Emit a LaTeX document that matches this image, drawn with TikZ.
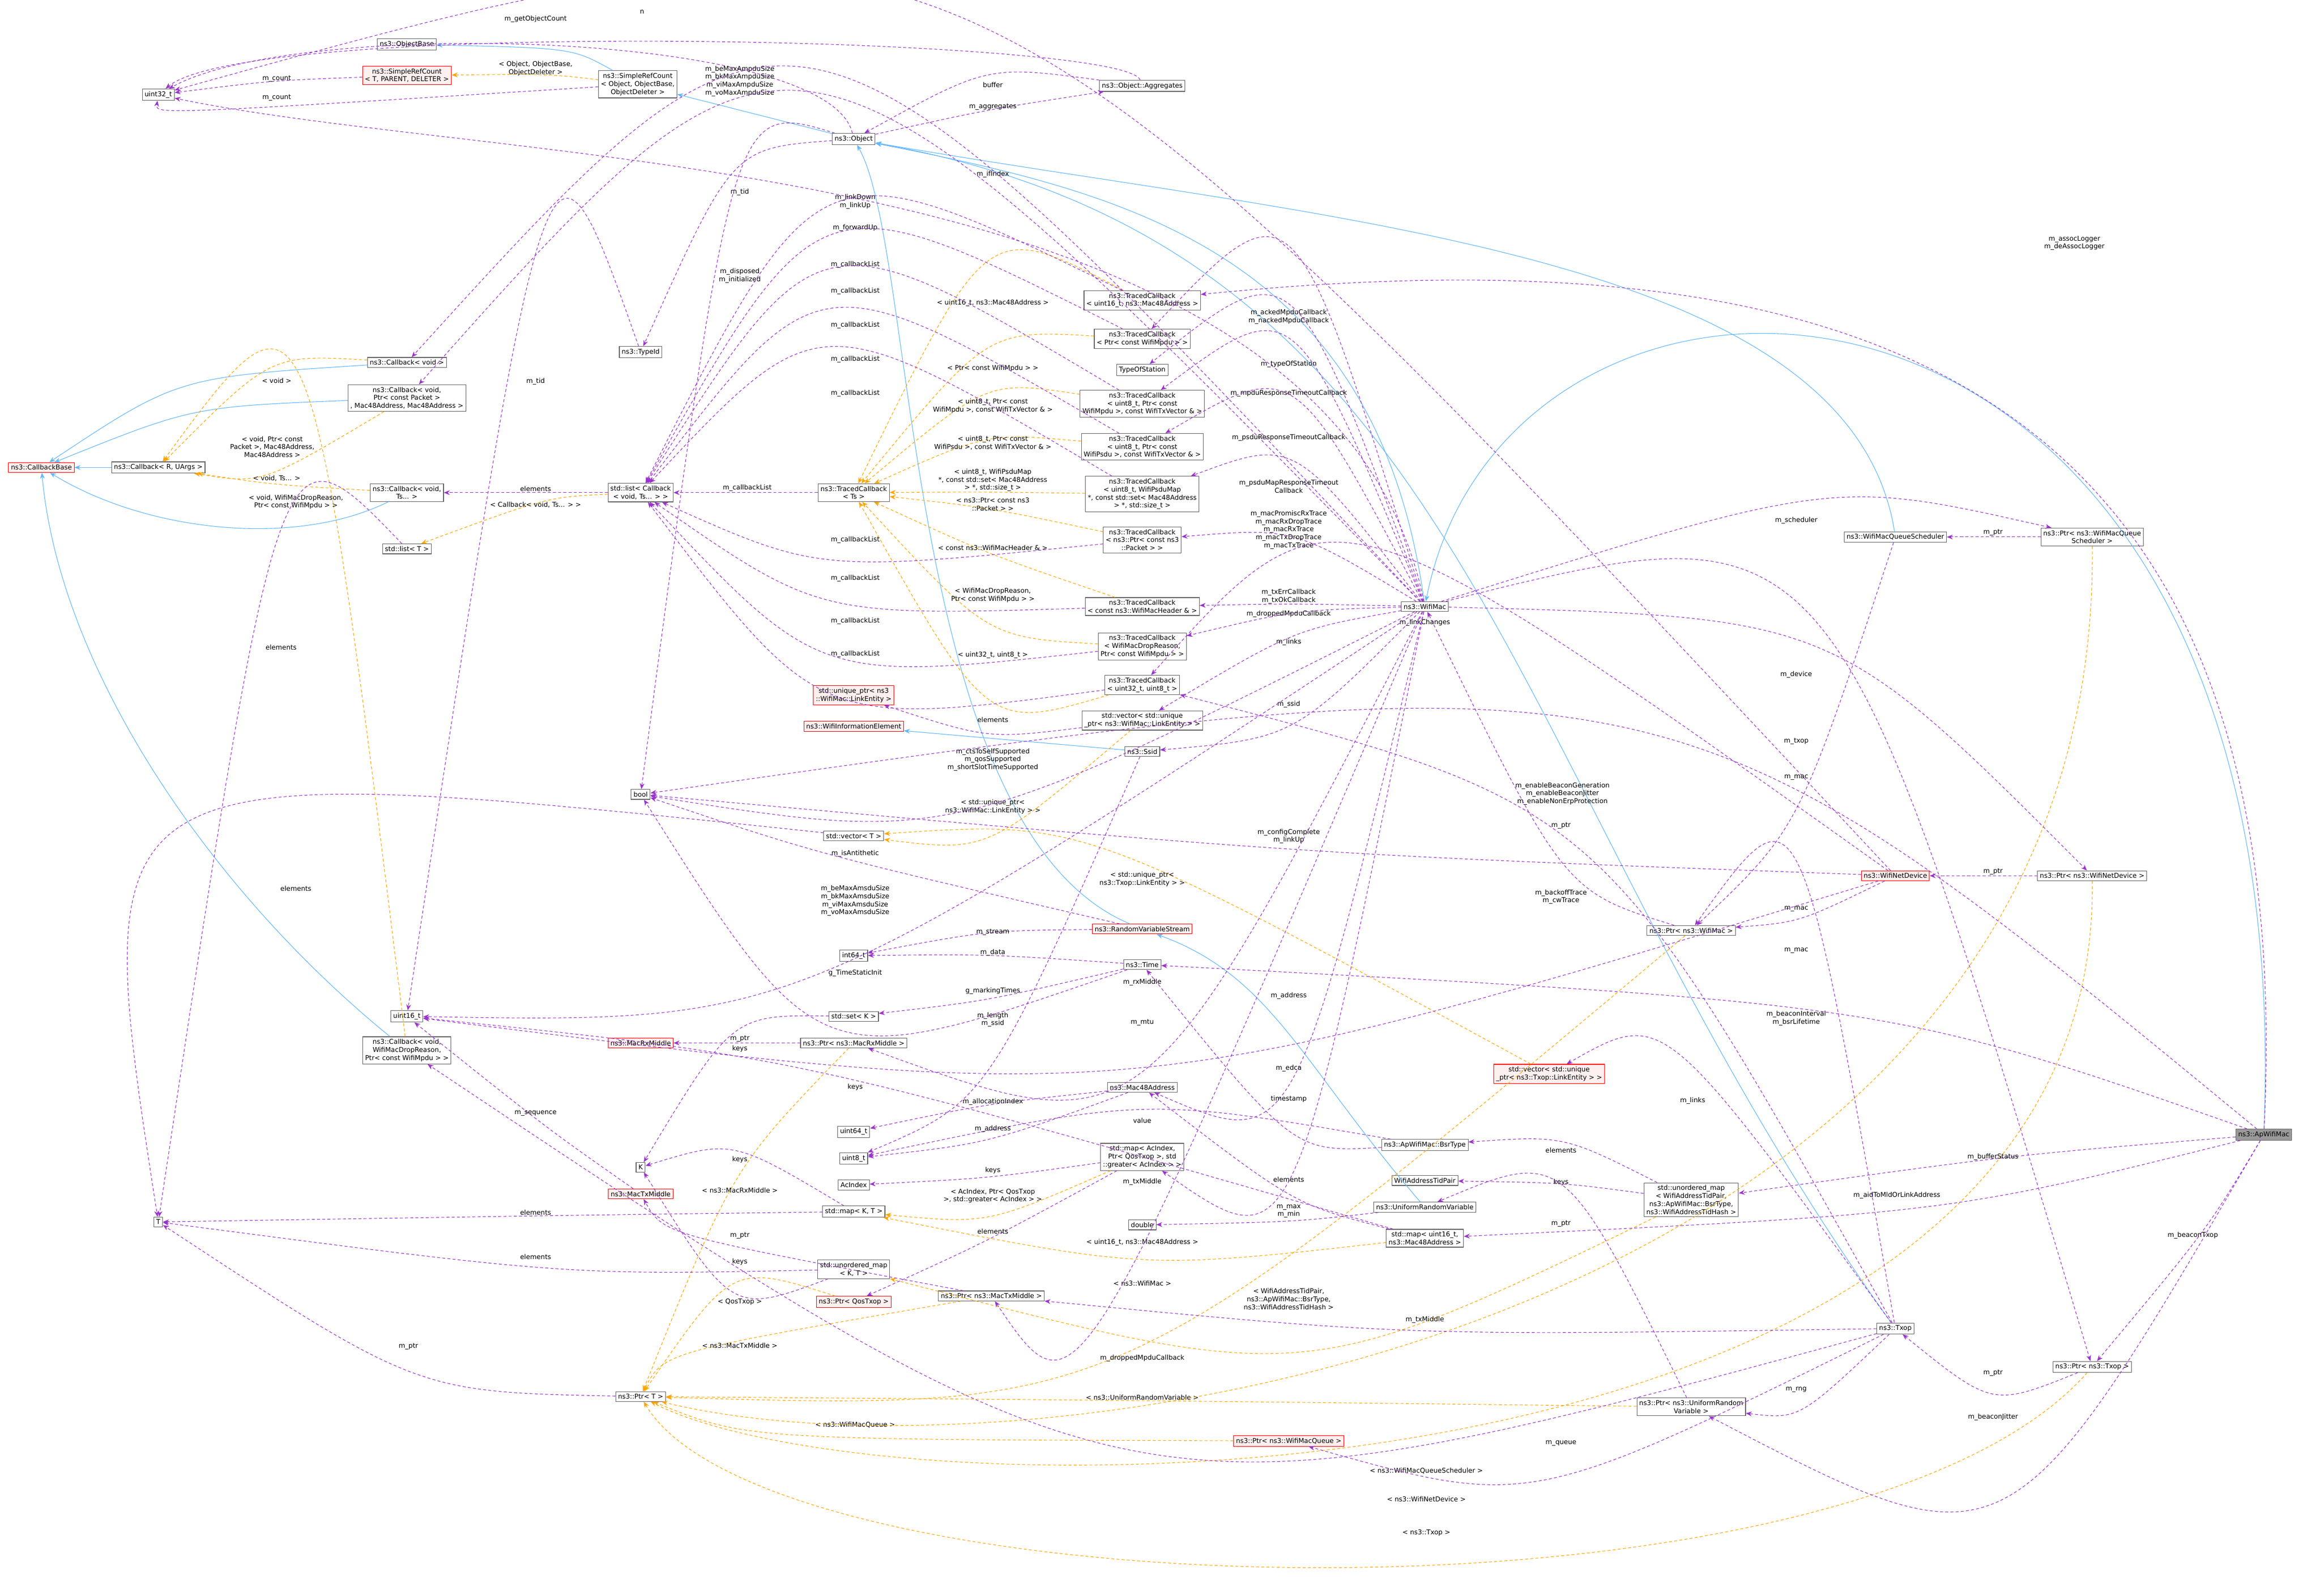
\documentclass[tikz,border=0pt]{standalone}
\usepackage{fontspec}
\setmainfont{DejaVu Sans}
\usetikzlibrary{calc,arrows.meta}
\definecolor{memcol}{HTML}{9A32CD}
\definecolor{tplcol}{HTML}{FFA500}
\definecolor{inhcol}{HTML}{63B8FF}
\tikzset{
% boxes of the collaboration graph
cls/.style={draw=black!60,fill=white,line width=0.4pt,inner sep=1.6pt,align=center,
  font=\fontsize{4.5}{5.4}\selectfont},
bad cls/.style={cls,draw=red,fill=red!6},
main cls/.style={cls,fill=black!40},
lbl/.style={font=\fontsize{4.5}{5.4}\selectfont,align=center,inner sep=0.6pt,anchor=south},
% three kinds of edges
mem/.style={draw=memcol,dashed,dash pattern=on 2pt off 1.5pt,line width=0.4pt,-{Stealth[length=4pt,width=3.2pt]}},
tpl/.style={draw=tplcol,dashed,dash pattern=on 2pt off 1.5pt,line width=0.4pt,-{Stealth[length=4pt,width=3.2pt]}},
inh/.style={draw=inhcol,line width=0.4pt,-{Stealth[length=4pt,width=3.2pt]}}
}
% edge bent through a label point
\newcommand\rel[5][mem]{%
  \draw[#1] (#2) .. controls ($2*(#4)-.5*(#2)-.5*(#3)$) .. (#3);
  \node[lbl] at (#4) {#5};}
% edge with given control points
\newcommand\relc[7][mem]{%
  \draw[#1] (#2) .. controls (#4) and (#5) .. (#3);
  \node[lbl] at (#6) {#7};}

\begin{document}
\begin{tikzpicture}[x=1pt,y=-1pt]
  \useasboundingbox (0,0) rectangle (1568,1078.5);
  % Classes
  \node[cls] (u32) at (107,64) {uint32\_t};
  \node[cls] (objbase) at (275,30) {ns3::ObjectBase};
  \node[bad cls] (srcT) at (275,51) {ns3::SimpleRefCount\\< T, PARENT, DELETER >};
  \node[cls] (srcO) at (431,57) {ns3::SimpleRefCount\\< Object, ObjectBase,\\ ObjectDeleter >};
  \node[cls] (obj) at (577,94) {ns3::Object};
  \node[cls] (aggr) at (772,58) {ns3::Object::Aggregates};
  \node[cls] (cbv) at (275,245) {ns3::Callback< void >};
  \node[cls] (cbpkt) at (275,269) {ns3::Callback< void,\\ Ptr< const Packet >\\, Mac48Address, Mac48Address >};
  \node[bad cls] (cbbase) at (28,316) {ns3::CallbackBase};
  \node[cls] (cbR) at (107,316) {ns3::Callback< R, UArgs >};
  \node[cls] (cbts) at (275,333) {ns3::Callback< void,\\ Ts... >};
  \node[cls] (lstcb) at (433,333) {std::list< Callback\\< void, Ts... > >};
  \node[cls] (typeid) at (433,238) {ns3::TypeId};
  \node[cls] (tcts) at (577,333) {ns3::TracedCallback\\< Ts >};
  \node[cls] (tcu16) at (772,203) {ns3::TracedCallback\\< uint16\_t, ns3::Mac48Address >};
  \node[cls] (tcmpdu) at (772,229) {ns3::TracedCallback\\< Ptr< const WifiMpdu > >};
  \node[cls] (tos) at (772,250) {TypeOfStation};
  \node[cls] (tcmto) at (772,273) {ns3::TracedCallback\\< uint8\_t, Ptr< const\\ WifiMpdu >, const WifiTxVector \& >};
  \node[cls] (tcpto) at (772,302) {ns3::TracedCallback\\< uint8\_t, Ptr< const\\ WifiPsdu >, const WifiTxVector \& >};
  \node[cls] (tcmap) at (772,334) {ns3::TracedCallback\\< uint8\_t, WifiPsduMap\\ *, const std::set< Mac48Address\\ > *, std::size\_t >};
  \node[cls] (tcpkt) at (772,365) {ns3::TracedCallback\\< ns3::Ptr< const ns3\\ ::Packet > >};
  \node[cls] (tchdr) at (772,410) {ns3::TracedCallback\\< const ns3::WifiMacHeader \& >};
  \node[cls] (tcdrop) at (772,437) {ns3::TracedCallback\\< WifiMacDropReason,\\ Ptr< const WifiMpdu > >};
  \node[cls] (tcu32) at (772,463) {ns3::TracedCallback\\< uint32\_t, uint8\_t >};
  \node[cls] (veclink) at (772,487) {std::vector< std::unique\\\_ptr< ns3::WifiMac::LinkEntity > >};
  \node[cls] (ssid) at (772,508) {ns3::Ssid};
  \node[cls] (wifimac) at (963,410) {ns3::WifiMac};
  \node[bad cls] (uplink) at (577,470) {std::unique\_ptr< ns3\\::WifiMac::LinkEntity >};
  \node[bad cls] (wie) at (577,491) {ns3::WifiInformationElement};
  \node[cls] (vecT) at (577,565) {std::vector< T >};
  \node[bad cls] (rvs) at (772,628) {ns3::RandomVariableStream};
  \node[cls] (i64) at (577,646) {int64\_t};
  \node[cls] (time) at (772,652) {ns3::Time};
  \node[cls] (setK) at (577,687) {std::set< K >};
  \node[cls] (prx) at (577,705) {ns3::Ptr< ns3::MacRxMiddle >};
  \node[cls] (lstT) at (275,371) {std::list< T >};
  \node[cls] (bool) at (433,537) {bool};
  \node[cls] (u16) at (275,687) {uint16\_t};
  \node[bad cls] (rxm) at (433,705) {ns3::MacRxMiddle};
  \node[cls] (cbdrop) at (275,710) {ns3::Callback< void,\\ WifiMacDropReason,\\ Ptr< const WifiMpdu > >};
  \node[cls] (K) at (433,789) {K};
  \node[bad cls] (txm) at (433,807) {ns3::MacTxMiddle};
  \node[cls] (T) at (107,826) {T};
  \node[cls] (ptrT) at (433,944) {ns3::Ptr< T >};
  \node[cls] (mac48) at (772,735) {ns3::Mac48Address};
  \node[cls] (u64) at (577,765) {uint64\_t};
  \node[cls] (u8) at (577,783) {uint8\_t};
  \node[cls] (acidx) at (577,801) {AcIndex};
  \node[cls] (mapKT) at (577,819) {std::map< K, T >};
  \node[cls] (mapac) at (772,782) {std::map< AcIndex,\\ Ptr< QosTxop >, std\\ ::greater< AcIndex > >};
  \node[cls] (dbl) at (772,828) {double};
  \node[cls] (umapKT) at (577,858) {std::unordered\_map\\< K, T >};
  \node[bad cls] (pqos) at (577,880) {ns3::Ptr< QosTxop >};
  \node[cls] (ptxm) at (670,876) {ns3::Ptr< ns3::MacTxMiddle >};
  \node[cls] (bsr) at (963,774) {ns3::ApWifiMac::BsrType};
  \node[cls] (watp) at (963,798) {WifiAddressTidPair};
  \node[cls] (urv) at (963,816) {ns3::UniformRandomVariable};
  \node[cls] (mapu16) at (963,837) {std::map< uint16\_t,\\ ns3::Mac48Address >};
  \node[bad cls] (pq) at (871,974) {ns3::Ptr< ns3::WifiMacQueue >};
  \node[bad cls] (vectxl) at (1047,726) {std::vector< std::unique\\\_ptr< ns3::Txop::LinkEntity > >};
  \node[main cls] (ap) at (1530,767) {ns3::ApWifiMac};
  \node[cls] (umap) at (1143,811) {std::unordered\_map\\< WifiAddressTidPair,\\ ns3::ApWifiMac::BsrType,\\ ns3::WifiAddressTidHash >};
  \node[cls] (txop) at (1281,898) {ns3::Txop};
  \node[cls] (ptxop) at (1414,924) {ns3::Ptr< ns3::Txop >};
  \node[cls] (purv) at (1143,951) {ns3::Ptr< ns3::UniformRandom\\Variable >};
  \node[cls] (wmqs) at (1281,363) {ns3::WifiMacQueueScheduler};
  \node[cls] (pwmqs) at (1414,363) {ns3::Ptr< ns3::WifiMacQueue\\Scheduler >};
  \node[bad cls] (wnd) at (1281,592) {ns3::WifiNetDevice};
  \node[cls] (pwnd) at (1414,592) {ns3::Ptr< ns3::WifiNetDevice >};
  \node[cls] (pwm) at (1143,629) {ns3::Ptr< ns3::WifiMac >};

  % Inheritance
  \rel[inh]{srcO}{objbase}{370,38}{}
  \draw[inh] (obj) -- (srcO);
  \draw[inh] (wifimac) .. controls (930,170) and (760,130) .. (obj);
  \draw[inh] (txop) .. controls (1010,520) and (1000,170) .. (obj);
  \draw[inh] (wmqs) .. controls (1250,170) and (900,150) .. (obj);
  \draw[inh] (rvs) .. controls (610,560) and (620,170) .. (obj);
  \draw[inh] (urv) .. controls (880,720) and (860,660) .. (rvs);
  \draw[inh] (ap) .. controls (1555,130) and (1020,120) .. (wifimac);
  \draw[inh] (ssid) -- (wie);
  \draw[inh] (cbR) -- (cbbase);
  \draw[inh] (cbv) .. controls (120,255) .. (cbbase);
  \draw[inh] (cbpkt) .. controls (130,275) .. (cbbase);
  \draw[inh] (cbts) .. controls (200,370) and (100,360) .. (cbbase);
  \draw[inh] (cbdrop) .. controls (140,600) and (40,450) .. (cbbase);

  % Template instances
  \rel[tpl]{srcO}{srcT}{362,52}{< Object, ObjectBase,\\ ObjectDeleter >}
  \rel[tpl]{cbv}{cbR}{187,260}{< void >}
  \rel[tpl]{cbpkt}{cbR}{184,310}{< void, Ptr< const\\ Packet >, Mac48Address,\\ Mac48Address >}
  \rel[tpl]{cbts}{cbR}{187,326}{< void, Ts... >}
  \rel[tpl]{cbdrop}{cbR}{200,345}{< void, WifiMacDropReason,\\ Ptr< const WifiMpdu > >}
  \rel[tpl]{lstcb}{lstT}{362,344}{< Callback< void, Ts... > >}
  \rel[tpl]{tcu16}{tcts}{671,208}{< uint16\_t, ns3::Mac48Address >}
  \rel[tpl]{tcmpdu}{tcts}{671,252}{< Ptr< const WifiMpdu > >}
  \rel[tpl]{tcmto}{tcts}{671,280}{< uint8\_t, Ptr< const\\ WifiMpdu >, const WifiTxVector \& >}
  \rel[tpl]{tcpto}{tcts}{671,305}{< uint8\_t, Ptr< const\\ WifiPsdu >, const WifiTxVector \& >}
  \rel[tpl]{tcmap}{tcts}{671,333}{< uint8\_t, WifiPsduMap\\ *, const std::set< Mac48Address\\ > *, std::size\_t >}
  \rel[tpl]{tcpkt}{tcts}{671,346}{< ns3::Ptr< const ns3\\ ::Packet > >}
  \rel[tpl]{tchdr}{tcts}{671,373}{< const ns3::WifiMacHeader \& >}
  \rel[tpl]{tcdrop}{tcts}{671,408}{< WifiMacDropReason,\\ Ptr< const WifiMpdu > >}
  \rel[tpl]{tcu32}{tcts}{671,446}{< uint32\_t, uint8\_t >}
  \rel[tpl]{veclink}{vecT}{671,551}{< std::unique\_ptr<\\ ns3::WifiMac::LinkEntity > >}
  \rel[tpl]{vectxl}{vecT}{772,600}{< std::unique\_ptr<\\ ns3::Txop::LinkEntity > >}
  \rel[tpl]{prx}{ptrT}{500,807}{< ns3::MacRxMiddle >}
  \rel[tpl]{pqos}{ptrT}{500,883}{< QosTxop >}
  \rel[tpl]{ptxm}{ptrT}{500,912}{< ns3::MacTxMiddle >}
  \rel[tpl]{mapac}{mapKT}{671,814}{< AcIndex, Ptr< QosTxop\\ >, std::greater< AcIndex > >}
  \rel[tpl]{mapu16}{mapKT}{772,843}{< uint16\_t, ns3::Mac48Address >}
  \rel[tpl]{umap}{umapKT}{871,886}{< WifiAddressTidPair,\\ ns3::ApWifiMac::BsrType,\\ ns3::WifiAddressTidHash >}
  \rel[tpl]{pwm}{ptrT}{772,870}{< ns3::WifiMac >}
  \rel[tpl]{purv}{ptrT}{772,947}{< ns3::UniformRandomVariable >}
  \rel[tpl]{pq}{ptrT}{578,966}{< ns3::WifiMacQueue >}
  \relc[tpl]{pwmqs}{ptrT}{1420,900}{700,1010}{964,997}{< ns3::WifiMacQueueScheduler >}
  \relc[tpl]{pwnd}{ptrT}{1420,1030}{600,1030}{964,1016}{< ns3::WifiNetDevice >}
  \relc[tpl]{ptxop}{ptrT}{1250,1110}{520,1090}{964,1039}{< ns3::Txop >}

  % Members
  \rel{srcT}{u32}{187,56}{m\_count}
  \rel{srcO}{u32}{187,69}{m\_count}
  \relc{obj}{u32}{560,20}{200,12}{362,16}{m\_getObjectCount}
  \relc{aggr}{u32}{760,25}{170,12}{434,10}{n}
  \relc{wifimac}{u32}{900,100}{350,115}{500,66}{m\_beMaxAmpduSize\\m\_bkMaxAmpduSize\\m\_viMaxAmpduSize\\m\_voMaxAmpduSize}
  \rel{wnd}{u32}{671,121}{m\_ifIndex}
  \rel{obj}{aggr}{671,75}{m\_aggregates}
  \rel{aggr}{obj}{671,60}{buffer}
  \rel{obj}{typeid}{500,133}{m\_tid}
  \rel{typeid}{u16}{362,261}{m\_tid}
  \rel{obj}{bool}{500,192}{m\_disposed\\m\_initialized}
  \rel{wifimac}{cbv}{578,142}{m\_linkDown\\m\_linkUp}
  \rel{wifimac}{cbpkt}{578,157}{m\_forwardUp}
  \rel{tcu16}{lstcb}{578,182}{m\_callbackList}
  \rel{tcmpdu}{lstcb}{578,200}{m\_callbackList}
  \rel{tcmto}{lstcb}{578,223}{m\_callbackList}
  \rel{tcpto}{lstcb}{578,246}{m\_callbackList}
  \rel{tcmap}{lstcb}{578,269}{m\_callbackList}
  \rel{tcts}{lstcb}{505,333}{m\_callbackList}
  \rel{tcpkt}{lstcb}{578,368}{m\_callbackList}
  \rel{tchdr}{lstcb}{578,394}{m\_callbackList}
  \rel{tcdrop}{lstcb}{578,423}{m\_callbackList}
  \rel{tcu32}{lstcb}{578,445}{m\_callbackList}
  \rel{lstcb}{cbts}{362,333}{elements}
  \rel{lstT}{T}{190,440}{elements}
  \rel{vecT}{T}{200,603}{elements}
  \rel{mapKT}{T}{362,822}{elements}
  \rel{umapKT}{T}{362,852}{elements}
  \rel{mapKT}{K}{500,787}{keys}
  \rel{umapKT}{K}{500,856}{keys}
  \rel{setK}{K}{500,712}{keys}
  \rel{prx}{rxm}{500,705}{m\_ptr}
  \rel{ptxm}{txm}{500,838}{m\_ptr}
  \rel{txm}{u16}{362,755}{m\_sequence}
  \rel{ptrT}{T}{276,913}{m\_ptr}
  \rel{txop}{cbdrop}{772,921}{m\_droppedMpduCallback}
  \relc{ap}{tcu16}{1555,250}{1250,155}{1402,170}{m\_assocLogger\\m\_deAssocLogger}
  \rel{wifimac}{tcmpdu}{871,220}{m\_ackedMpduCallback\\m\_nackedMpduCallback}
  \rel{wifimac}{tos}{871,249}{m\_typeOfStation}
  \rel{wifimac}{tcmto}{871,269}{m\_mpduResponseTimeoutCallback}
  \rel{wifimac}{tcpto}{871,299}{m\_psduResponseTimeoutCallback}
  \rel{wifimac}{tcmap}{871,334}{m\_psduMapResponseTimeout\\Callback}
  \rel{wifimac}{tcpkt}{871,372}{m\_macPromiscRxTrace\\m\_macRxDropTrace\\m\_macRxTrace\\m\_macTxDropTrace\\m\_macTxTrace}
  \rel{wifimac}{tchdr}{871,409}{m\_txErrCallback\\m\_txOkCallback}
  \rel{wifimac}{tcdrop}{871,418}{m\_droppedMpduCallback}
  \rel{wifimac}{veclink}{871,437}{m\_links}
  \rel{wifimac}{ssid}{871,479}{m\_ssid}
  \rel{ssid}{u8}{671,695}{m\_length\\m\_ssid}
  \rel{wifimac}{bool}{671,522}{m\_ctsToSelfSupported\\m\_qosSupported\\m\_shortSlotTimeSupported}
  \rel{wnd}{bool}{871,571}{m\_configComplete\\m\_linkUp}
  \rel{ap}{bool}{1056,545}{m\_enableBeaconGeneration\\m\_enableBeaconJitter\\m\_enableNonErpProtection}
  \rel{wnd}{tcu32}{963,424}{m\_linkChanges}
  \rel{veclink}{uplink}{671,489}{elements}
  \rel{rvs}{bool}{578,580}{m\_isAntithetic}
  \rel{rvs}{i64}{671,633}{m\_stream}
  \rel{time}{i64}{671,647}{m\_data}
  \rel{time}{bool}{578,661}{g\_TimeStaticInit}
  \rel{time}{setK}{671,673}{g\_markingTimes}
  \rel{wifimac}{u16}{578,620}{m\_beMaxAmsduSize\\m\_bkMaxAmsduSize\\m\_viMaxAmsduSize\\m\_voMaxAmsduSize}
  \rel{wifimac}{prx}{772,667}{m\_rxMiddle}
  \rel{wifimac}{mac48}{871,676}{m\_address}
  \rel{wnd}{u16}{772,694}{m\_mtu}
  \rel{ap}{time}{1214,694}{m\_beaconInterval\\m\_bsrLifetime}
  \rel{txop}{tcu32}{1055,612}{m\_backoffTrace\\m\_cwTrace}
  \rel{txop}{pwm}{1214,645}{m\_mac}
  \rel{wnd}{pwm}{1214,617}{m\_mac}
  \rel{wmqs}{pwm}{1214,528}{m\_mac}
  \rel{wifimac}{ptxop}{1214,504}{m\_txop}
  \rel{wifimac}{pwnd}{1214,459}{m\_device}
  \rel{wifimac}{pwmqs}{1214,355}{m\_scheduler}
  \rel{pwmqs}{wmqs}{1347,363}{m\_ptr}
  \rel{pwnd}{wnd}{1347,592}{m\_ptr}
  \rel{pwm}{wifimac}{1055,561}{m\_ptr}
  \rel{ap}{umap}{1347,785}{m\_bufferStatus}
  \rel{ap}{mapu16}{1282,811}{m\_aidToMldOrLinkAddress}
  \rel{ap}{ptxop}{1482,838}{m\_beaconTxop}
  \rel{ap}{purv}{1347,961}{m\_beaconJitter}
  \rel{ptxop}{txop}{1347,931}{m\_ptr}
  \rel{txop}{purv}{1214,942}{m\_rng}
  \rel{txop}{pq}{1055,978}{m\_queue}
  \rel{txop}{vectxl}{1144,747}{m\_links}
  \rel{txop}{ptxm}{963,895}{m\_txMiddle}
  \rel{wifimac}{ptxm}{772,802}{m\_txMiddle}
  \rel{wifimac}{mapac}{871,725}{m\_edca}
  \rel{bsr}{time}{871,746}{timestamp}
  \rel{bsr}{u8}{772,760}{value}
  \rel{umap}{bsr}{1055,780}{elements}
  \rel{mapu16}{mac48}{871,800}{elements}
  \rel{umap}{watp}{1055,802}{keys}
  \rel{mapu16}{u16}{578,738}{keys}
  \rel{urv}{dbl}{871,824}{m\_max\\m\_min}
  \rel{purv}{urv}{1055,830}{m\_ptr}
  \rel{mac48}{u8}{671,766}{m\_address}
  \rel{mac48}{u64}{671,748}{m\_allocationIndex}
  \rel{mapac}{acidx}{671,794}{keys}
  \rel{mapac}{pqos}{671,835}{elements}
\end{tikzpicture}
\end{document}
